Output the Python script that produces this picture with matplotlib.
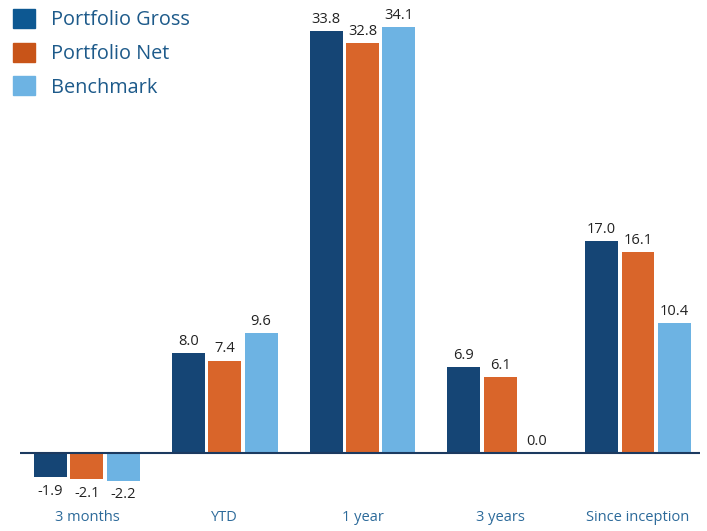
import numpy as np
import matplotlib.pyplot as plt
from matplotlib.patches import Patch

categories = ["3 months", "YTD", "1 year", "3 years", "Since inception"]
gross = [-1.9, 8.0, 33.8, 6.9, 17.0]
net = [-2.1, 7.4, 32.8, 6.1, 16.1]
bench = [-2.2, 9.6, 34.1, 0.0, 10.4]
series_names = ["Portfolio Gross", "Portfolio Net", "Benchmark"]

bar_colors = ["#154575", "#d9652a", "#6db3e3"]
legend_colors = ["#0d5892", "#c85418", "#6db3e3"]

plt.rcParams['font.family'] = ['Open Sans', 'DejaVu Sans']

fig = plt.figure(figsize=(7.07, 5.31), dpi=100)
ax = fig.add_axes([20/707, 31/531, 680/707, 495/531])

x = np.arange(len(categories))
w = 0.239
step = 0.264
for i, vals in enumerate([gross, net, bench]):
    pos = x + (i - 1) * step
    bars = ax.bar(pos, vals, width=w, color=bar_colors[i], zorder=2)
    for b, v in zip(bars, vals):
        if v < 0:
            ax.annotate(f"{v:.1f}", (b.get_x() + b.get_width()/2, v),
                        xytext=(0, -5), textcoords="offset points",
                        ha="center", va="top", fontsize=10.5, color="#222222")
        else:
            ax.annotate(f"{v:.1f}", (b.get_x() + b.get_width()/2, v),
                        xytext=(0, 3), textcoords="offset points",
                        ha="center", va="bottom", fontsize=10.5, color="#222222")

ax.axhline(0, color="#1c3a60", linewidth=1.5, zorder=3)
ax.set_xlim(-0.486, 4.45)
ax.set_ylim(-3.76, 35.87)
ax.set_yticks([])
ax.set_xticks(x)
ax.set_xticklabels(categories, fontsize=10.5, color="#2c6a9a")
ax.tick_params(axis="x", length=0, pad=7)
for s in ax.spines.values():
    s.set_visible(False)

handles = [Patch(color=c, label=n) for c, n in zip(legend_colors, series_names)]
leg = fig.legend(handles=handles, loc="upper left", bbox_to_anchor=(0.002, 1.006),
                 frameon=False, fontsize=14.3, handlelength=1.1, handleheight=1.1,
                 handletextpad=0.82, labelspacing=0.63, borderaxespad=0.2)
for t in leg.get_texts():
    t.set_color("#1d5a8a")

fig.savefig("out.png", dpi=100)
